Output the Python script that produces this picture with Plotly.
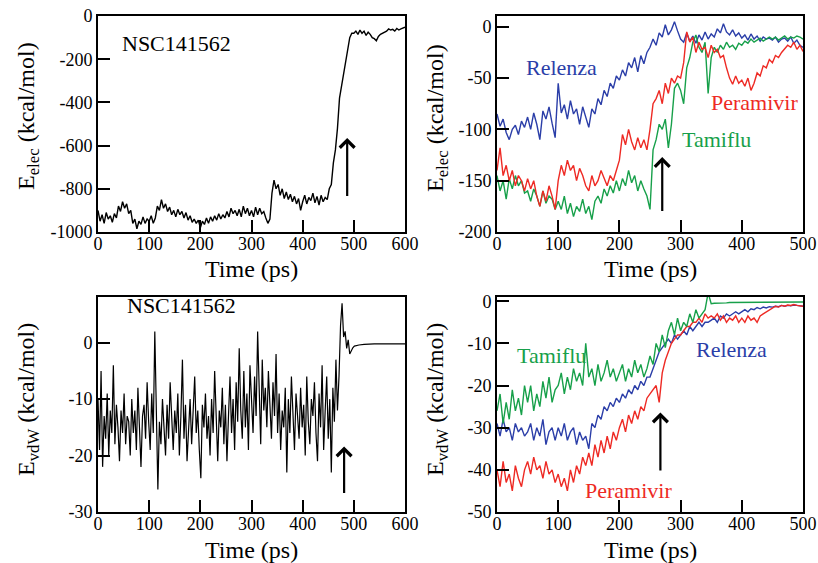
import plotly.graph_objects as go

# ---- data ----
# NSC141562, E_elec, sampled every 4 ps (0..600)
nsc_elec_step = 4
nsc_elec = [
    -900, -950, -920, -960, -910, -940, -925, -955, -915, -935, -880, -905, -860,
    -890, -870, -915, -900, -960, -940, -985, -950, -965, -930, -960, -940,
    -950, -925, -960, -935, -880, -900, -850, -890, -870, -905, -885, -920, -900,
    -930, -895, -920, -905, -935, -910, -945, -925, -955, -940, -960, -945,
    -980, -950, -965, -935, -960, -930, -950, -925, -945, -915, -940, -920, -935,
    -905, -930, -890, -915, -900, -925, -895, -930, -880, -915, -890, -925,
    -900, -930, -885, -920, -890, -915, -905, -935, -960, -940, -820, -760, -800,
    -780, -830, -800, -845, -815, -850, -825, -860, -835, -870, -845, -900,
    -860, -830, -870, -840, -855, -820, -865, -835, -875, -830, -860, -840, -850,
    -800, -780, -680, -620, -520, -380, -320, -280, -210, -150, -100, -80,
    -80, -70, -85, -65, -80, -70, -90, -75, -85, -100, -105, -115, -95,
    -85, -80, -75, -70, -60, -65, -62, -70, -58, -65, -60, -55, -52,
]

# NSC141562, E_vdW, sampled every 3 ps (0..477), then the settled tail
nsc_vdw_step = 3
nsc_vdw = [
    -10, -19, -5, -22, -13, -17, -9, -20, -12, -16,
    -4, -18, -11, -15, -21, -12, -16, -9, -18, -13,
    -14, -20, -10, -16, -12, -19, -8, -15, -22, -13,
    -11, -17, -7, -14, -19, -9, -16, 2, -12, -26,
    -14, -18, -10, -15, -20, -11, -17, -7, -14, -19,
    -12, -16, -9, -20, -13, -3, -17, -11, -21, -14,
    -10, -18, -13, -6, -16, -12, -19, -24, -11, -15,
    -9, -17, -13, -20, -10, -16, -5, -14, -21, -12,
    -15, -8, -18, -11, -21, -13, -6, -16, -10, -19,
    -7, -14, -1, -12, -17, -5, -15, -9, -19, -4,
    -11, -16, -6, -13, 2, -9, -18, -3, -12, -8,
    -15, -5, -11, -17, -7, -13, -2, -16, -9, -19,
    -12, -15, -8, -23, -10, -16, -6, -14, -19, -9,
    -13, -17, -8, -15, -11, -20, -6, -14, -18, -10,
    -13, -7, -16, -21, -9, -15, -4, -19, -12, -6,
    -17, -10, -23, -8, -14, -3, -12, -6, 3, 7,
]
nsc_vdw_tail_t = [480, 483, 486, 489, 492, 495, 498, 501, 505, 510, 520, 540, 570, 600]
nsc_vdw_tail = [1, 2, -1, 0.5, -2, -1.3, -0.9, -0.6, -0.5, -0.4, -0.3, -0.2, -0.2, -0.2]

# three drugs, sampled every 5 ps (0..500)
drug_step = 5
relenza_elec = [
    -85, -97, -90, -103, -110, -100, -96, -105, -92, -98,
    -88, -100, -84, -95, -110, -82, -90, -78, -94, -108,
    -55, -84, -76, -90, -72, -85, -80, -95, -78, -88,
    -98, -80, -85, -70, -76, -62, -68, -55, -60, -48,
    -52, -42, -48, -35, -40, -30, -44, -28, -36, -25,
    -20, -12, -18, -6, -10, 2, -8, -3, 5, -4,
    -12, -15, -6, -14, -9, -16, -8, -13, -5, -12,
    -7, -10, -2, -6, 3, -5, -8, -3, -9, -6,
    -11, -8, -13, -7, -12, -9, -14, -10, -12, -11,
    -13, -10, -15, -12, -11, -14, -10, -16, -13, -18, -20,
]
peramivir_elec = [
    -140, -118, -145, -135, -150, -140, -155, -145, -150, -160,
    -148, -158, -150, -165, -175, -160, -170, -155, -165, -178,
    -150, -135, -145, -130, -140, -135, -150, -138, -145, -155,
    -160, -145, -155, -150, -140, -148, -155, -145, -150, -140,
    -130, -105, -115, -100, -112, -120, -108, -118, -110, -120,
    -100, -75, -70, -62, -75, -55, -65, -50, -55, -48,
    -50, -35, -5, -15, -10, -25, -15, -22, -20, -30,
    -18, -25, -22, -30, -28, -40, -50, -56, -48, -55,
    -52, -58, -50, -62, -55, -45, -48, -38, -40, -32,
    -35, -28, -30, -25, -22, -18, -20, -15, -22, -18, -24,
]
tamiflu_elec = [
    -145, -160, -150, -168, -148, -158, -145, -155, -150, -162,
    -160, -170, -158, -165, -175, -160, -172, -165, -168, -178,
    -170, -178, -165, -182, -172, -185, -175, -180, -168, -182,
    -175, -188, -170, -165, -172, -158, -165, -155, -162, -150,
    -160, -148, -155, -140, -152, -145, -160, -150, -158, -165,
    -178, -120, -110, -95, -100, -90, -118, -95, -60, -55,
    -62, -75, -40, -30, -15, -8, -20, -25, -15, -65,
    -30, -20, -25, -18, -22, -15, -20, -18, -22, -16,
    -18, -14, -16, -12, -15, -13, -11, -14, -12, -10,
    -12, -10, -13, -11, -9, -12, -10, -11, -9, -10, -12,
]
tamiflu_vdw = [
    -26, -22, -29, -24, -28, -21, -26, -23, -27, -20,
    -24, -20, -26, -22, -25, -19, -23, -18, -24, -21,
    -20, -17, -22, -18, -21, -16, -19, -17, -20, -10,
    -18, -16, -20, -15, -19, -17, -14, -18, -16, -19,
    -17, -15, -19, -16, -18, -14, -17, -15, -18, -16,
    -13, -15, -10, -12, -8, -11, -7, -5, -8, -4,
    -7, -5, -6, -3, -5, -2, -4, -3, -2, 2,
    -0.6, -0.5, -0.5, -0.4, -0.4, -0.4, -0.3, -0.3, -0.3, -0.3,
    -0.3, -0.3, -0.3, -0.2, -0.3, -0.2, -0.2, -0.3, -0.2, -0.2,
    -0.2, -0.2, -0.2, -0.2, -0.2, -0.2, -0.2, -0.2, -0.2, -0.2, -0.2,
]
relenza_vdw = [
    -29, -32, -28, -31, -30, -33, -29, -31, -30, -32,
    -31, -29, -33, -30, -32, -28, -34, -31, -30, -33,
    -30, -32, -29, -33, -31, -30, -34, -31, -33, -32,
    -35, -29, -30, -27, -28, -25, -26, -24, -25, -23,
    -24, -22, -23, -21, -22, -20, -21, -19, -20, -18,
    -18, -16, -14, -12, -11, -10, -9, -10, -8, -9,
    -8, -7, -8, -6, -7, -6, -5, -6, -5, -5,
    -4.5, -4, -5, -3.5, -4, -3, -3.5, -3, -2.5, -3,
    -2.5, -2, -2.5, -1.8, -2, -1.5, -1.8, -1.4, -1.6, -1.3,
    -1.4, -1.2, -1.3, -1.0, -1.2, -1.0, -1.1, -0.9, -1.0, -1.1, -1.2,
]
peramivir_vdw = [
    -40, -44, -38, -43, -41, -45, -39, -42, -44, -40,
    -38, -41, -37, -40, -39, -42, -38, -41, -40, -43,
    -41, -44, -42, -45, -40, -43, -39, -41, -37, -39,
    -36, -39, -34, -37, -33, -36, -32, -35, -31, -33,
    -30, -28, -31, -27, -29, -26, -28, -25, -26, -23,
    -22, -21, -20, -24, -17, -14, -12, -10, -9, -8,
    -8, -7, -6, -6, -5, -5, -4, -5, -3, -4,
    -3.5, -4, -3, -4.5, -3.5, -5, -4, -4.5, -3.5, -5,
    -4, -5, -3.5, -4.5, -4, -5, -3.5, -3, -2.5, -2,
    -1.5, -1.2, -1.4, -1.0, -1.2, -0.9, -1.0, -0.8, -1.0, -1.1, -1.2,
]

BLUE = "#2b3ea8"
RED = "#ee2a24"
GREEN = "#17a04a"
FONT = "Liberation Serif, Times New Roman, Times, serif"


def times(step, values):
    return [step * i for i in range(len(values))]


fig = go.Figure()

# top-left
fig.add_trace(go.Scatter(x=times(nsc_elec_step, nsc_elec), y=nsc_elec, mode="lines",
                         line=dict(color="black", width=1.4), xaxis="x", yaxis="y"))
# top-right
for vals, col in [(relenza_elec, BLUE), (tamiflu_elec, GREEN), (peramivir_elec, RED)]:
    fig.add_trace(go.Scatter(x=times(drug_step, vals), y=vals, mode="lines",
                             line=dict(color=col, width=1.4), xaxis="x2", yaxis="y2"))
# bottom-left
fig.add_trace(go.Scatter(x=times(nsc_vdw_step, nsc_vdw) + nsc_vdw_tail_t, y=nsc_vdw + nsc_vdw_tail,
                         mode="lines", line=dict(color="black", width=1.2), xaxis="x3", yaxis="y3"))
# bottom-right
for vals, col in [(relenza_vdw, BLUE), (peramivir_vdw, RED), (tamiflu_vdw, GREEN)]:
    fig.add_trace(go.Scatter(x=times(drug_step, vals), y=vals, mode="lines",
                             line=dict(color=col, width=1.4), xaxis="x4", yaxis="y4"))

W, H = 818, 563
xdom_l = [98 / W, 405 / W]
xdom_r = [497 / W, 803 / W]
ydom_t = [1 - 232 / H, 1 - 16 / H]
ydom_b = [1 - 512 / H, 1 - 297 / H]

axis_common = dict(showline=True, linecolor="black", linewidth=2, mirror=True,
                   ticks="inside", ticklen=12, tickwidth=2, tickcolor="black",
                   showgrid=False, zeroline=False, automargin=False,
                   tickfont=dict(family=FONT, size=18, color="black"))


def axis(dom, anchor, rng, vals, standoff=0):
    return dict(axis_common, domain=dom, anchor=anchor, range=rng, tickmode="array",
                tickvals=vals, ticktext=[str(v) for v in vals], ticklabelstandoff=standoff)


fig.update_layout(
    template="none",
    width=W, height=H,
    margin=dict(l=0, r=0, t=0, b=0, autoexpand=False),
    showlegend=False,
    plot_bgcolor="white", paper_bgcolor="white",
    font=dict(family=FONT, color="black"),
    xaxis=axis(xdom_l, "y", [0, 600], [0, 100, 200, 300, 400, 500, 600], -6),
    yaxis=axis(ydom_t, "x", [-1000, 0], [-1000, -800, -600, -400, -200, 0]),
    xaxis2=axis(xdom_r, "y2", [0, 500], [0, 100, 200, 300, 400, 500], -6),
    yaxis2=axis(ydom_t, "x2", [-200, 10.5], [-200, -150, -100, -50, 0]),
    xaxis3=axis(xdom_l, "y3", [0, 600], [0, 100, 200, 300, 400, 500, 600], -6),
    yaxis3=axis(ydom_b, "x3", [-30, 8.1], [-30, -20, -10, 0]),
    xaxis4=axis(xdom_r, "y4", [0, 500], [0, 100, 200, 300, 400, 500], -6),
    yaxis4=axis(ydom_b, "x4", [-50, 1], [-50, -40, -30, -20, -10, 0]),
)

# axis titles (pixel positions from the reference)
elec_title = "E<sub>elec</sub> (kcal/mol)"
vdw_title = "E<sub>vdW</sub> (kcal/mol)"
for cx, cy in [(251, 269), (650, 269), (251, 550), (650, 550)]:
    fig.add_annotation(xref="paper", yref="paper", x=cx / W, y=1 - cy / H, text="Time (ps)",
                       showarrow=False, xanchor="center", yanchor="middle",
                       font=dict(family=FONT, size=24, color="black"))
for cx, cy, txt in [(28, 116, elec_title), (437, 118, elec_title),
                    (28, 400, vdw_title), (437, 400, vdw_title)]:
    fig.add_annotation(xref="paper", yref="paper", x=cx / W, y=1 - cy / H, text=txt,
                       textangle=-90, showarrow=False, xanchor="center", yanchor="middle",
                       font=dict(family=FONT, size=24, color="black"))

labels = [
    ("x", "y", 154, -126, "NSC141562", "black"),
    ("x3", "y3", 164, 6.6, "NSC141562", "black"),
    ("x2", "y2", 106, -40, "Relenza", BLUE),
    ("x2", "y2", 421, -74, "Peramivir", RED),
    ("x2", "y2", 359, -110, "Tamiflu", GREEN),
    ("x4", "y4", 89, -12.9, "Tamiflu", GREEN),
    ("x4", "y4", 383, -11.4, "Relenza", BLUE),
    ("x4", "y4", 215, -44.9, "Peramivir", RED),
]
for xr, yr, x, y, txt, col in labels:
    fig.add_annotation(xref=xr, yref=yr, x=x, y=y, text=txt, showarrow=False,
                       font=dict(family=FONT, size=22, color=col))

arrows = [
    ("x", "y", 487, -565, -840),
    ("x2", "y2", 270, -127, -181),
    ("x3", "y3", 481, -18.4, -26.9),
    ("x4", "y4", 267, -26.4, -40.5),
]
for xr, yr, x, tip, tail in arrows:
    fig.add_annotation(xref=xr, yref=yr, axref=xr, ayref=yr, x=x, y=tip, ax=x, ay=tail,
                       text="", showarrow=True, arrowhead=4, arrowsize=1.3, arrowwidth=2.2,
                       arrowcolor="black")

# the page body has a default margin; drop it so the figure sits at the window corner
fig.write_html("out.html", config={"displayModeBar": False},
               post_script="document.body.style.margin = '0';")
